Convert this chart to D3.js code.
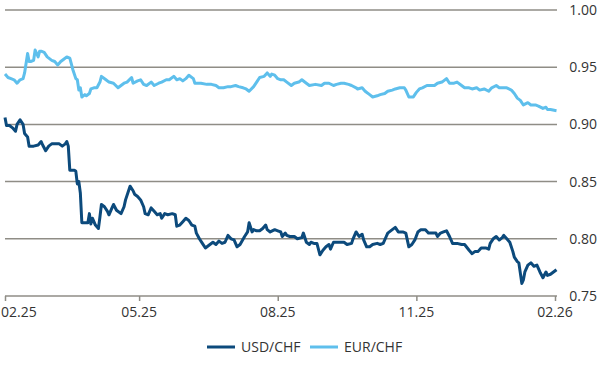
<!DOCTYPE html>
<html>
<head>
<meta charset="utf-8">
<script src="https://cdn.jsdelivr.net/npm/d3@7/dist/d3.min.js"></script>
<style>
  html, body { margin: 0; padding: 0; background: #fff; }
  svg { display: block; }
  text { font-family: "Open Sans", "Noto Sans", sans-serif; fill: #333; }
</style>
</head>
<body>
<svg id="chart" width="600" height="380"></svg>
<script>
// ---- Data ----
const startDate = "2025-02-01";
const seriesNames = ["USD/CHF", "EUR/CHF"];

const usdDays = [0,1,3,5,7,8,10,12,13,15,16,19,22,24,25,27,29,31,34,36,38,40,41,42,43,46,47,48,49,50,51,52,55,56,57,58,60,62,63,64,66,68,69,71,72,74,77,79,80,83,85,86,88,90,92,93,95,97,99,101,103,104,106,108,111,113,114,116,118,120,122,124,126,127,129,131,133,136,138,140,142,144,146,148,150,152,154,156,159,161,162,164,165,167,169,171,173,174,176,179,181,183,184,186,187,189,192,194,197,198,200,202,203,205,207,209,211,213,215,216,218,220,223,225,227,230,231,233,235,237,238,240,242,244,247,249,251,253,254,257,259,261,264,266,268,270,272,274,276,279,281,283,286,287,289,291,293,295,297,300,303,305,308,310,312,314,316,319,321,322,324,326,328,330,331,333,335,337,338,340,341,342,343,344,345,347,349,351,353,355,357,359,360,362,364,366];
const usdValues = [0.906,0.899,0.899,0.897,0.894,0.900,0.904,0.900,0.892,0.889,0.881,0.881,0.882,0.885,0.882,0.877,0.881,0.883,0.883,0.883,0.881,0.883,0.885,0.881,0.860,0.860,0.859,0.848,0.850,0.840,0.814,0.814,0.814,0.822,0.813,0.818,0.812,0.809,0.819,0.830,0.828,0.824,0.821,0.827,0.830,0.825,0.822,0.828,0.834,0.846,0.842,0.839,0.837,0.834,0.828,0.822,0.821,0.827,0.824,0.821,0.822,0.818,0.822,0.821,0.822,0.821,0.811,0.812,0.815,0.818,0.816,0.812,0.811,0.805,0.800,0.796,0.792,0.795,0.797,0.795,0.798,0.796,0.797,0.803,0.800,0.799,0.793,0.795,0.802,0.806,0.814,0.806,0.808,0.807,0.807,0.809,0.812,0.808,0.806,0.808,0.807,0.806,0.802,0.805,0.803,0.802,0.802,0.800,0.801,0.805,0.797,0.795,0.797,0.796,0.796,0.786,0.790,0.793,0.795,0.791,0.797,0.797,0.797,0.797,0.795,0.796,0.800,0.806,0.802,0.804,0.799,0.793,0.793,0.795,0.796,0.795,0.796,0.802,0.805,0.808,0.810,0.806,0.806,0.805,0.793,0.795,0.799,0.806,0.808,0.808,0.805,0.805,0.805,0.802,0.805,0.806,0.807,0.802,0.796,0.796,0.795,0.795,0.790,0.787,0.789,0.789,0.792,0.792,0.791,0.796,0.800,0.802,0.799,0.801,0.803,0.800,0.797,0.789,0.784,0.780,0.779,0.770,0.761,0.764,0.771,0.777,0.779,0.776,0.777,0.771,0.766,0.771,0.768,0.769,0.771,0.773];

const eurDays = [0,2,4,6,8,10,12,13,15,16,17,19,20,22,23,24,26,28,31,33,35,37,39,41,43,45,47,48,49,50,51,53,54,56,57,59,61,63,64,67,69,72,75,77,79,81,84,85,88,90,92,94,97,99,102,104,107,109,112,114,116,118,120,122,125,126,130,134,137,140,142,145,148,150,153,155,158,160,162,165,167,169,172,174,176,177,179,181,183,185,187,190,192,195,197,200,202,206,210,212,215,218,220,223,225,228,230,233,234,237,239,242,244,247,249,252,254,257,259,262,265,266,268,271,273,275,277,280,282,285,287,290,293,295,298,300,303,305,308,310,313,315,318,321,323,326,328,331,333,336,338,340,342,344,347,349,352,354,357,359,360,362,366];
const eurValues = [0.944,0.941,0.940,0.939,0.936,0.939,0.940,0.945,0.962,0.955,0.955,0.956,0.965,0.959,0.964,0.964,0.963,0.959,0.956,0.955,0.952,0.955,0.957,0.959,0.958,0.948,0.940,0.939,0.930,0.932,0.924,0.926,0.925,0.927,0.931,0.932,0.932,0.937,0.942,0.939,0.937,0.936,0.932,0.934,0.936,0.937,0.941,0.936,0.938,0.939,0.935,0.934,0.937,0.934,0.936,0.937,0.939,0.939,0.942,0.939,0.940,0.938,0.940,0.943,0.940,0.936,0.936,0.935,0.935,0.934,0.932,0.932,0.933,0.933,0.934,0.933,0.932,0.931,0.929,0.933,0.937,0.941,0.942,0.945,0.942,0.944,0.943,0.940,0.939,0.939,0.937,0.934,0.936,0.937,0.939,0.936,0.934,0.935,0.934,0.936,0.936,0.934,0.935,0.936,0.936,0.935,0.934,0.932,0.931,0.932,0.929,0.926,0.924,0.925,0.926,0.927,0.929,0.930,0.931,0.932,0.932,0.930,0.924,0.924,0.928,0.931,0.932,0.934,0.934,0.934,0.936,0.937,0.940,0.936,0.936,0.937,0.934,0.932,0.932,0.931,0.932,0.930,0.931,0.929,0.932,0.934,0.932,0.932,0.932,0.930,0.927,0.923,0.921,0.917,0.919,0.917,0.917,0.916,0.914,0.915,0.913,0.913,0.912];

const xTickDates = ["2025-02-01","2025-05-01","2025-08-01","2025-11-01","2026-02-01"];
const xTickLabels = ["02.25","05.25","08.25","11.25","02.26"];
const yTicks = [0.75, 0.80, 0.85, 0.90, 0.95, 1.00];
const yTickLabels = ["0.75","0.80","0.85","0.90","0.95","1.00"];

// ---- Drawing ----
const parse = d3.utcParse("%Y-%m-%d");
const t0 = parse(startDate);
const toPoints = (days, vals) => days.map((d, i) => ({ date: d3.utcDay.offset(t0, d), value: vals[i] }));
const usd = toPoints(usdDays, usdValues);
const eur = toPoints(eurDays, eurValues);

const colors = { "USD/CHF": "#0c4a7c", "EUR/CHF": "#5ebfec" };
const gridColor = "#8f8d86";

const svg = d3.select("#chart");
const x = d3.scaleUtc().domain([parse(xTickDates[0]), parse(xTickDates[4])]).range([5, 555]);
const y = d3.scaleLinear().domain([0.75, 1.00]).range([296, 10]);

// gridlines
svg.append("g").selectAll("line").data(yTicks).join("line")
  .attr("x1", 5).attr("x2", 557)
  .attr("y1", d => y(d)).attr("y2", d => y(d))
  .attr("stroke", gridColor).attr("stroke-width", 1.5);

// right labels
svg.append("g").selectAll("text").data(yTicks).join("text")
  .attr("x", 597).attr("y", d => y(d)).attr("dy", "0.35em")
  .attr("text-anchor", "end").attr("font-size", 14)
  .text((d, i) => yTickLabels[i]);

// bottom ticks
const xAxis = d3.axisBottom(x).tickValues(xTickDates.map(parse)).tickSize(5).tickFormat("");
const gx = svg.append("g").attr("transform", `translate(0,${y(0.75)})`).call(xAxis);
gx.select(".domain").remove();
gx.selectAll(".tick line").attr("stroke", gridColor).attr("stroke-width", 1.5);

// bottom labels
svg.append("g").selectAll("text").data(xTickDates).join("text")
  .attr("x", (d, i) => i === 0 ? 1 : x(parse(d)))
  .attr("y", 317)
  .attr("text-anchor", (d, i) => i === 0 ? "start" : "middle")
  .attr("font-size", 14)
  .text((d, i) => xTickLabels[i]);

// lines
const line = d3.line().x(d => x(d.date)).y(d => y(d.value));
[["EUR/CHF", eur], ["USD/CHF", usd]].forEach(([name, data]) => {
  svg.append("path").datum(data)
    .attr("fill", "none").attr("stroke", colors[name])
    .attr("stroke-width", 3).attr("stroke-linejoin", "round")
    .attr("d", line);
});

// legend
const legendItems = [{ name: seriesNames[0], x: 207 }, { name: seriesNames[1], x: 310 }];
const lg = svg.append("g");
legendItems.forEach(it => {
  lg.append("line").attr("x1", it.x).attr("x2", it.x + 28)
    .attr("y1", 347).attr("y2", 347)
    .attr("stroke", colors[it.name]).attr("stroke-width", 3);
  lg.append("text").attr("x", it.x + 34).attr("y", 347).attr("dy", "0.35em")
    .attr("font-size", 14).text(it.name);
});
</script>
</body>
</html>
